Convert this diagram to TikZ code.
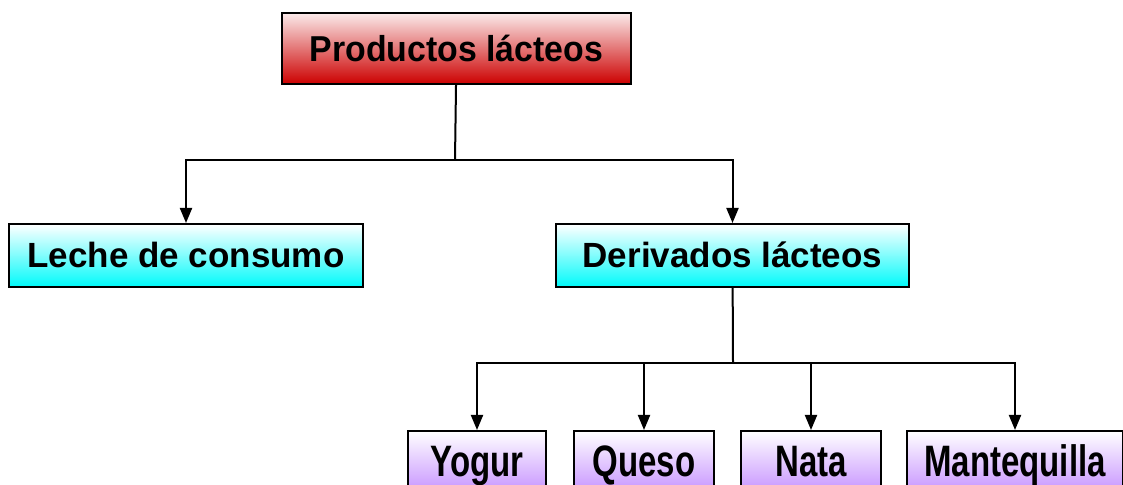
\documentclass[tikz,border=0pt]{standalone}
\usepackage{fontspec}
\setmainfont{Liberation Sans}
\usepackage{graphicx}
\usetikzlibrary{arrows.meta}

\definecolor{rojo}{RGB}{204,0,0}
\definecolor{celeste}{RGB}{0,250,250}
\definecolor{lila}{RGB}{200,150,255}

\newcommand{\estrecho}[2]{\scalebox{#1}[1]{#2}}

\tikzstyle{caja}=[draw=black, line width=1pt, inner sep=0pt, text depth=0pt, font=\bfseries]
\tikzstyle{raiz}=[caja, top color=white!92!rojo, bottom color=rojo, minimum width=174.5pt, minimum height=35.5pt, text height=12.9pt, font=\bfseries\fontsize{18}{18}\selectfont]
\tikzstyle{rama}=[caja, top color=white, bottom color=celeste, minimum width=177pt, minimum height=31.5pt, text height=12.5pt, font=\bfseries\fontsize{17.5}{17.5}\selectfont]
\tikzstyle{hoja}=[caja, top color=white, bottom color=lila, minimum height=30pt, text height=15.75pt, anchor=north, font=\bfseries\fontsize{22}{22}\selectfont]
\tikzstyle{flecha}=[line width=1pt, -{Triangle[length=7.5pt,width=6pt]}]
\tikzstyle{linea}=[line width=1pt]

\begin{document}
\begin{tikzpicture}[x=0.5pt,y=-0.5pt]
    \useasboundingbox (0,0) rectangle (1123,485);
    \clip (0,0) rectangle (1123,485);
    % nodos
    \node[raiz] (prod) at (456.5,48.5) {\estrecho{0.94}{Productos lácteos}};
    \node[rama] (leche) at (186,255.5) {Leche de consumo};
    \node[rama, minimum width=176.5pt] (deriv) at (732.5,255.5) {Derivados lácteos};
    \node[hoja, minimum width=69pt] (yogur) at (477,430) {\estrecho{0.75}{Yogur}};
    \node[hoja, minimum width=70pt] (queso) at (644,430) {\estrecho{0.75}{Queso}};
    \node[hoja, minimum width=70pt] (nata) at (811,430) {\estrecho{0.75}{Nata}};
    \node[hoja, minimum width=108pt] (mante) at (1015,430) {\estrecho{0.75}{Mantequilla}};
    \coordinate (div1) at (455,160);
    \coordinate (div2) at (733,363);
    % conectores
    \draw[linea] (prod) -- (div1);
    \draw[flecha] (div1) -| (leche);
    \draw[flecha] (div1) -| (deriv);
    \draw[linea] (deriv) -- (div2);
    \draw[flecha] (div2) -| (yogur);
    \draw[flecha] (div2) -| (queso);
    \draw[flecha] (div2) -| (nata);
    \draw[flecha] (div2) -| (mante);
\end{tikzpicture}
\end{document}
